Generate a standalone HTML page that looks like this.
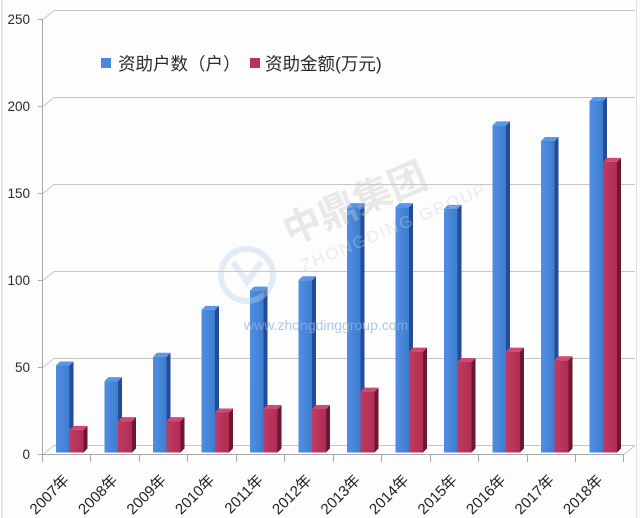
<!DOCTYPE html>
<html><head><meta charset="utf-8"><style>
html,body{margin:0;padding:0;background:#fff;}
svg{display:block;}
</style></head><body>
<svg width="640" height="518" viewBox="0 0 640 518" xmlns="http://www.w3.org/2000/svg" font-family="'Liberation Sans','Noto Sans CJK SC',sans-serif">
<defs>
<linearGradient id="gb" x1="0" x2="1" y1="0" y2="0"><stop offset="0" stop-color="#4f8fe2"/><stop offset="1" stop-color="#3f7ccf"/></linearGradient>
<linearGradient id="gr" x1="0" x2="1" y1="0" y2="0"><stop offset="0" stop-color="#c23a62"/><stop offset="1" stop-color="#ae2d54"/></linearGradient>
</defs>
<rect width="640" height="518" fill="#fdfdfd"/>
<line x1="2" y1="0" x2="2" y2="518" stroke="#cfcfcf" stroke-width="1"/>
<line x1="636.5" y1="0" x2="636.5" y2="518" stroke="#e2e2e2" stroke-width="1"/>
<g stroke="#c6c6c6" stroke-width="1" fill="none">
<polyline points="43,19.5 54,10.5 635,10.5"/>
<polyline points="43,106.5 54,97.5 635,97.5"/>
<polyline points="43,193.5 54,184.5 635,184.5"/>
<polyline points="43,280.5 54,271.5 635,271.5"/>
<polyline points="43,367.5 54,358.5 635,358.5"/>
<polyline points="43,454.5 54,445.5 635,445.5"/>
<line x1="624" y1="454.5" x2="635" y2="445.5"/>
</g>
<g stroke="#a8a8a8" stroke-width="1">
<line x1="42.5" y1="19" x2="42.5" y2="455"/>
<line x1="42.5" y1="454.5" x2="624" y2="454.5"/>
<line x1="38" y1="19.5" x2="43" y2="19.5"/>
<line x1="38" y1="106.5" x2="43" y2="106.5"/>
<line x1="38" y1="193.5" x2="43" y2="193.5"/>
<line x1="38" y1="280.5" x2="43" y2="280.5"/>
<line x1="38" y1="367.5" x2="43" y2="367.5"/>
<line x1="38" y1="454.5" x2="43" y2="454.5"/>
<line x1="42.5" y1="455" x2="42.5" y2="462"/>
<line x1="90.5" y1="455" x2="90.5" y2="462"/>
<line x1="139.5" y1="455" x2="139.5" y2="462"/>
<line x1="187.5" y1="455" x2="187.5" y2="462"/>
<line x1="236.5" y1="455" x2="236.5" y2="462"/>
<line x1="284.5" y1="455" x2="284.5" y2="462"/>
<line x1="333.5" y1="455" x2="333.5" y2="462"/>
<line x1="381.5" y1="455" x2="381.5" y2="462"/>
<line x1="430.5" y1="455" x2="430.5" y2="462"/>
<line x1="478.5" y1="455" x2="478.5" y2="462"/>
<line x1="527.5" y1="455" x2="527.5" y2="462"/>
<line x1="575.5" y1="455" x2="575.5" y2="462"/>
<line x1="623.5" y1="455" x2="623.5" y2="462"/>
</g>
<g font-size="13.5" fill="#2a2a2a" text-anchor="end">
<text x="30" y="24">250</text>
<text x="30" y="111">200</text>
<text x="30" y="198">150</text>
<text x="30" y="285">100</text>
<text x="30" y="372">50</text>
<text x="30" y="459">0</text>
</g>
<!-- legend -->
<rect x="101" y="58" width="10" height="10" fill="#4a88dc"/>
<text x="118" y="70" font-size="17.5" fill="#2a2a2a">资助户数（户）</text>
<rect x="250" y="58" width="10" height="10" fill="#b8325a"/>
<text x="265" y="70" font-size="17.5" fill="#2a2a2a">资助金额(万元)</text>
<g id="bars"></g>
<!-- watermark -->
<g opacity="0.4">
<circle cx="247" cy="275" r="26" fill="none" stroke="#bcd4ec" stroke-width="6"/>
<path d="M233 262 L247 282 L261 262" fill="none" stroke="#bcd4ec" stroke-width="6"/>
<g transform="translate(290,245) rotate(-23)">
<text x="0" y="0" font-size="38" font-weight="bold" fill="#c9c9c9" font-family="'Noto Sans CJK SC',sans-serif">中鼎集团</text>
<text x="2" y="30" font-size="17" fill="#cfcfcf" letter-spacing="2">ZHONGDING GROUP</text>
</g>
</g>
<text x="244" y="330" font-size="14" fill="#8fb6e4" opacity="0.75">www.zhongdinggroup.com</text>
<g font-size="15" fill="#1e1e1e" text-anchor="end">
<text transform="translate(70,481) rotate(-45)">2007年</text>
<text transform="translate(118.5,481) rotate(-45)">2008年</text>
<text transform="translate(167,481) rotate(-45)">2009年</text>
<text transform="translate(215.5,481) rotate(-45)">2010年</text>
<text transform="translate(264,481) rotate(-45)">2011年</text>
<text transform="translate(312.5,481) rotate(-45)">2012年</text>
<text transform="translate(361,481) rotate(-45)">2013年</text>
<text transform="translate(409.5,481) rotate(-45)">2014年</text>
<text transform="translate(458,481) rotate(-45)">2015年</text>
<text transform="translate(506.5,481) rotate(-45)">2016年</text>
<text transform="translate(555,481) rotate(-45)">2017年</text>
<text transform="translate(603.5,481) rotate(-45)">2018年</text>
</g>
<script>
(function(){
var blue=[50,41,55,82,93,99,141,141,140,188,179,202];
var red=[13,18,18,23,25,25,35,58,52,58,53,167];
var base=452.5,s=1.74,d=4,g=document.getElementById('bars'),ns='http://www.w3.org/2000/svg';
function poly(pts,fill){var p=document.createElementNS(ns,'polygon');p.setAttribute('points',pts.map(function(a){return a.join(',')}).join(' '));p.setAttribute('fill',fill);g.appendChild(p);}
function bar(x,w,v,front,side,top){var t=base-v*s;
poly([[x+w,t],[x+w+d,t-d],[x+w+d,base-d],[x+w,base]],side);
poly([[x,t],[x+d,t-d],[x+w+d,t-d],[x+w,t]],top);
poly([[x,t],[x+w,t],[x+w,base],[x,base]],front);}
for(var i=0;i<12;i++){var x=56+48.5*i;
bar(x,13.5,blue[i],'url(#gb)','#234c98','#5b97e4');
bar(x+13.5,14,red[i],'url(#gr)','#6c1830','#cf4a70');}
})();
</script>
</svg>
</body></html>
